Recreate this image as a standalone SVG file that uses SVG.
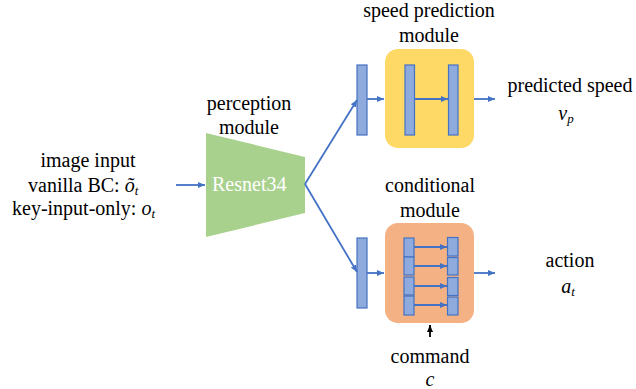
<svg xmlns="http://www.w3.org/2000/svg" width="636" height="389" viewBox="0 0 636 389" font-family="'Liberation Serif', 'Times New Roman', serif">
<style>
text{font-family:'Liberation Serif','Times New Roman',serif;font-size:20px}
.m{font-style:italic}
.c{text-anchor:middle}
.bar{fill:#8FAADC;stroke:#4472C4;stroke-width:1.2}
.ar{stroke:#4472C4;stroke-width:1.8;fill:none;marker-end:url(#ah)}
</style>
<defs>
<marker id="ah" markerWidth="8" markerHeight="8" refX="7" refY="4" orient="auto" markerUnits="userSpaceOnUse">
<path d="M0,1 L7,4 L0,7 z" fill="#4472C4"/>
</marker>
<marker id="ahk" markerWidth="8" markerHeight="8" refX="7" refY="4" orient="auto" markerUnits="userSpaceOnUse">
<path d="M0,1 L7,4 L0,7 z" fill="#000"/>
</marker>
</defs>
<g id="input">
<text class="c" x="88" y="167">image input</text>
<text x="28" y="192">vanilla BC: <tspan class="m">õ</tspan><tspan class="m" font-size="13" dy="3">t</tspan></text>
<text x="12" y="215">key-input-only: <tspan class="m">o</tspan><tspan class="m" font-size="13" dy="3">t</tspan></text>
</g>
<g id="perception">
<text class="c" x="249" y="110">perception</text>
<text class="c" x="249" y="134">module</text>
<polygon points="206,133 305,157 305,213 206,237" fill="#A9D18E"/>
<text x="212" y="191" fill="#fff">Resnet34</text>
</g>
<g id="speed">
<text class="c" x="429" y="17">speed prediction</text>
<text class="c" x="429" y="42">module</text>
<rect x="357" y="65" width="10" height="70" class="bar"/>
<rect x="385" y="49" width="89" height="99" rx="13" fill="#FFD966"/>
<rect x="405" y="65" width="9.5" height="70" class="bar"/>
<rect x="448.5" y="65" width="9.5" height="70" class="bar"/>
</g>
<g id="conditional">
<text class="c" x="430" y="192">conditional</text>
<text class="c" x="430" y="217">module</text>
<rect x="357" y="238" width="10" height="70" class="bar"/>
<rect x="385" y="223" width="89" height="100" rx="13" fill="#F4B183"/>
<rect x="404" y="238" width="10" height="19" class="bar"/>
<rect x="404" y="257" width="10" height="18" class="bar"/>
<rect x="404" y="277" width="10" height="18" class="bar"/>
<rect x="404" y="296" width="10" height="19" class="bar"/>
<rect x="447.5" y="237.5" width="10.5" height="18.5" class="bar"/>
<rect x="447.5" y="257.5" width="10.5" height="17.5" class="bar"/>
<rect x="447.5" y="277.5" width="10.5" height="18" class="bar"/>
<rect x="447.5" y="297" width="10.5" height="18" class="bar"/>
</g>
<g id="outputs">
<text class="c" x="570" y="92">predicted speed</text>
<text class="c m" x="566" y="120">v<tspan font-size="13" dy="3">p</tspan></text>
<text class="c" x="570" y="267">action</text>
<text class="c m" x="568" y="293">a<tspan font-size="13" dy="3">t</tspan></text>
</g>
<g id="command">
<text class="c" x="430" y="363">command</text>
<text class="c m" x="430" y="386">c</text>
</g>
<g id="connectors">
<line x1="176" y1="185" x2="205" y2="185" class="ar"/>
<line x1="305" y1="184" x2="357" y2="100" class="ar"/>
<line x1="305" y1="184" x2="357" y2="272" class="ar"/>
<line x1="367" y1="99" x2="384" y2="99" class="ar"/>
<line x1="414.5" y1="99" x2="448" y2="99" class="ar"/>
<line x1="474" y1="99" x2="495" y2="99" class="ar"/>
<line x1="367" y1="273" x2="384" y2="273" class="ar"/>
<line x1="414" y1="247" x2="447" y2="247" class="ar"/>
<line x1="414" y1="266" x2="447" y2="266" class="ar"/>
<line x1="414" y1="286" x2="447" y2="286" class="ar"/>
<line x1="414" y1="305" x2="447" y2="305" class="ar"/>
<line x1="474" y1="273" x2="495" y2="273" class="ar"/>
<line x1="430" y1="337" x2="430" y2="325" stroke="#000" stroke-width="1.8" marker-end="url(#ahk)"/>
</g>
</svg>
